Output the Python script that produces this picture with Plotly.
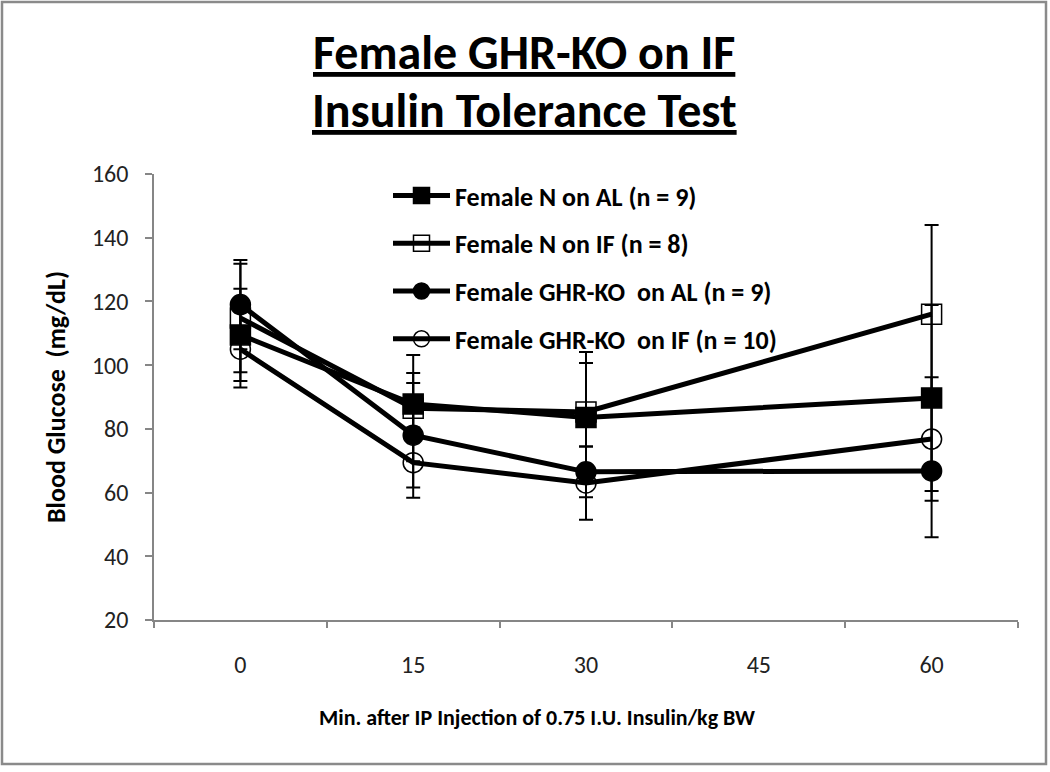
import plotly.graph_objects as go

# ---- data ----
time_labels = ["0", "15", "30", "45", "60"]
x_measured = ["0", "15", "30", "60"]

series_names = [
    "Female N on AL (n = 9)",
    "Female N on IF (n = 8)",
    "Female GHR-KO  on AL (n = 9)",
    "Female GHR-KO  on IF (n = 10)",
]
n_al_mean = [109.5, 87.8, 83.6, 89.7]
n_al_err = [14.5, 9.7, 17.1, 29.2]
n_if_mean = [114.8, 86.5, 85.3, 116.0]
n_if_err = [17.0, 16.7, 18.8, 28.0]
ko_al_mean = [119.0, 78.0, 66.5, 66.8]
ko_al_err = [14.0, 16.4, 8.0, 20.8]
ko_if_mean = [105.0, 69.4, 63.0, 76.8]
ko_if_err = [12.0, 11.0, 11.5, 19.4]

FONT = "Carlito, Lato, 'Open Sans', sans-serif"

# plot-area pixel geometry
W, H = 1050, 772
L, R, T, B = 154, 32, 174, 152
PW, PH = W - L - R, H - T - B


def px(x):
    return (x - L) / PW


def py(y):
    return (H - B - y) / PH


fig = go.Figure()

specs = [
    (n_al_mean, n_al_err, "square", "black"),
    (n_if_mean, n_if_err, "square-open", "black"),
    (ko_al_mean, ko_al_err, "circle", "black"),
    (ko_if_mean, ko_if_err, "circle-open", "black"),
]
for name, (ys, es, sym, col) in zip(series_names, specs):
    fig.add_trace(go.Scatter(
        x=x_measured, y=ys, name=name, legendgroup=name,
        mode="lines+markers",
        line=dict(color="black", width=5),
        marker=dict(symbol=sym, size=20, color=col,
                    line=dict(color="black", width=1.5)),
        error_y=dict(type="data", array=es, visible=True,
                     color="black", thickness=2, width=7),
    ))

axis_col = "#868686"
fig.update_xaxes(
    type="category", categoryorder="array", categoryarray=time_labels,
    range=[-0.5, 4.5], tickson="boundaries",
    showline=True, linecolor=axis_col, linewidth=1.5,
    ticks="outside", ticklen=6, tickcolor=axis_col, tickwidth=1.5,
    tickfont=dict(family=FONT, size=24, color="#222"),
    ticklabelstandoff=22, showgrid=False, zeroline=False,
)
fig.update_yaxes(
    range=[20, 160], dtick=20,
    showline=True, linecolor=axis_col, linewidth=1.5,
    ticks="outside", ticklen=7, tickcolor=axis_col, tickwidth=1.5,
    tickfont=dict(family=FONT, size=24, color="#222"),
    ticklabelstandoff=12, showgrid=False, zeroline=False,
)


def note(text, x, y, size, angle=0):
    return dict(text=text, x=px(x), y=py(y), xref="paper", yref="paper",
                xanchor="center", yanchor="middle", showarrow=False,
                textangle=angle,
                font=dict(family=FONT, size=size, color="black", weight="bold"))


fig.update_layout(
    width=W, height=H,
    margin=dict(l=L, r=R, t=T, b=B),
    paper_bgcolor="white", plot_bgcolor="white",
    font=dict(family=FONT, color="black"),
    showlegend=True,
    legend=dict(
        x=px(388), y=py(172), xanchor="left", yanchor="top",
        font=dict(family=FONT, size=26, color="black", weight="bold"),
        bgcolor="rgba(0,0,0,0)", tracegroupgap=11, itemwidth=57,
    ),
    annotations=[
        note("<u>Female GHR-KO on IF</u>", 524, 52, 48),
        note("<u>Insulin Tolerance Test</u>", 524, 111, 48),
        note("Min. after IP Injection of 0.75 I.U. Insulin/kg BW", 537, 717, 22),
        note("Blood Glucose  (mg/dL)", 56, 397, 26, -90),
    ],
    shapes=[
        dict(type="rect", xref="paper", yref="paper",
             x0=px(2), x1=px(1046), y0=py(764), y1=py(2),
             line=dict(color="#8a8a8a", width=2.5), fillcolor="rgba(0,0,0,0)",
             layer="below"),
    ],
)

fig.write_html("out.html", config={"displayModeBar": False},
               post_script="document.body.style.margin='0px';")
